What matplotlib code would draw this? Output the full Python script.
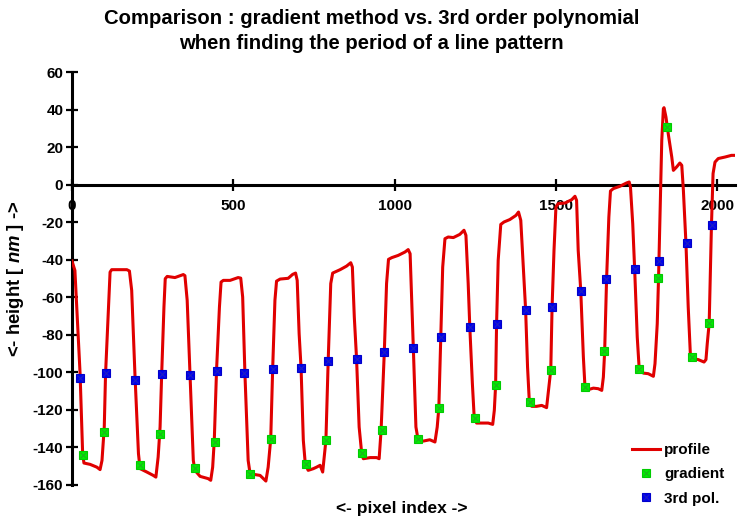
import matplotlib
matplotlib.use("Agg")
import matplotlib.pyplot as plt
from matplotlib.ticker import MultipleLocator

plt.rcParams["font.family"] = ["Liberation Sans", "DejaVu Sans"]
plt.rcParams["font.weight"] = "bold"
plt.rcParams["axes.unicode_minus"] = False
plt.rcParams["mathtext.fontset"] = "custom"
plt.rcParams["mathtext.it"] = "Liberation Sans:bold:italic"

# measured height profile (pixel index, height in nm)
profile_x = [
    0, 9, 25, 33, 37, 56, 77, 87, 93, 100, 104, 113, 118, 123, 170, 178,
    185, 195, 206, 211, 232, 252, 260, 267, 273, 278, 285, 289, 295, 319,
    345, 350, 357, 366, 376, 381, 397, 422, 430, 436, 441, 448, 457, 462,
    469, 490, 515, 523, 529, 536, 546, 552, 583, 601, 608, 616, 622, 629,
    634, 645, 670, 684, 693, 698, 704, 710, 717, 723, 732, 748, 758, 769,
    777, 787, 794, 802, 808, 831, 851, 864, 869, 875, 882, 890, 898, 903,
    924, 944, 952, 958, 968, 975, 981, 991, 1011, 1032, 1042, 1048, 1053,
    1058, 1066, 1073, 1089, 1109, 1125, 1132, 1137, 1143, 1149, 1156, 1166,
    1182, 1202, 1215, 1221, 1228, 1233, 1241, 1246, 1254, 1270, 1290, 1304,
    1309, 1313, 1316, 1321, 1329, 1339, 1357, 1376, 1384, 1391, 1399, 1406,
    1412, 1417, 1425, 1440, 1456, 1471, 1477, 1484, 1488, 1494, 1500, 1507,
    1528, 1549, 1559, 1564, 1569, 1577, 1585, 1590, 1600, 1616, 1631, 1642,
    1647, 1651, 1657, 1664, 1669, 1678, 1698, 1719, 1727, 1731, 1738, 1744,
    1752, 1758, 1771, 1786, 1802, 1807, 1814, 1818, 1822, 1828, 1833, 1835,
    1841, 1848, 1859, 1864, 1874, 1884, 1890, 1895, 1903, 1910, 1917, 1925,
    1941, 1959, 1965, 1969, 1975, 1982, 1987, 1993, 2003, 2024, 2044, 2055,
]
profile_y = [
    -40.7, -45.7, -100.5, -143.3, -148.3, -149.0, -150.5, -151.8, -146.9,
    -129.1, -100.7, -65.2, -46.6, -45.3, -45.3, -46.0, -56.3, -100.7,
    -143.3, -151.3, -153.1, -154.9, -155.8, -145.1, -129.1, -100.7, -65.2,
    -50.1, -48.9, -49.5, -47.9, -48.5, -61.6, -101.6, -146.9, -152.2,
    -155.4, -156.6, -157.5, -150.5, -136.2, -98.9, -65.2, -51.9, -51.0,
    -51.0, -49.5, -49.8, -59.9, -100.7, -146.9, -154.0, -154.9, -157.9,
    -150.5, -135.3, -98.0, -61.6, -51.4, -50.3, -49.9, -47.8, -47.1, -51.0,
    -79.4, -97.7, -136.2, -148.6, -152.2, -151.3, -150.5, -149.5, -153.1,
    -136.2, -94.1, -52.7, -47.1, -45.3, -43.4, -41.6, -43.9, -70.5, -92.7,
    -129.1, -143.3, -146.0, -145.4, -145.4, -146.0, -130.9, -89.2, -52.7,
    -39.8, -38.9, -37.7, -35.9, -34.6, -36.8, -61.6, -87.1, -129.1, -136.2,
    -136.6, -135.9, -137.1, -129.1, -119.0, -81.2, -43.9, -28.8, -27.9,
    -28.2, -26.5, -24.3, -27.0, -52.7, -75.9, -106.0, -122.0, -127.0,
    -127.0, -127.0, -127.7, -120.2, -106.9, -74.1, -40.3, -21.2, -19.9,
    -18.6, -16.4, -14.6, -19.0, -43.9, -66.6, -97.2, -114.0, -118.1,
    -118.1, -117.6, -118.8, -109.6, -98.6, -65.2, -35.0, -11.9, -10.1,
    -9.8, -8.0, -6.2, -8.4, -35.0, -56.7, -91.8, -107.8, -109.2, -108.4,
    -108.7, -109.6, -102.5, -88.8, -50.1, -17.3, -3.4, -2.1, -0.9, 0.9,
    1.4, -1.3, -20.8, -45.1, -81.2, -98.0, -100.4, -100.7, -102.1, -95.4,
    -74.1, -49.8, -20.8, 23.6, 40.5, 41.0, 36.0, 27.2, 14.7, 7.6, 9.4,
    11.5, 10.3, -3.0, -31.4, -65.2, -91.8, -92.7, -93.2, -94.5, -93.2,
    -84.7, -73.7, -21.7, 5.9, 12.0, 13.9, 14.7, 15.6, 15.6,
]

# edge positions found with the gradient method
gradient_x = [35, 98, 211, 273, 380, 442, 552, 616, 725, 787, 898, 961,
              1071, 1139, 1249, 1313, 1419, 1484, 1590, 1650, 1758, 1817,
              1843, 1921, 1975]
gradient_y = [-144.2, -132.0, -149.6, -132.9, -150.8, -137.1, -154.3,
              -135.7, -148.6, -136.1, -143.0, -130.9, -135.7, -118.9,
              -124.3, -106.9, -115.8, -98.6, -107.8, -88.7, -98.0, -49.8,
              30.7, -91.8, -73.7]

# edge positions found with the 3rd order polynomial fit
poly_x = [25, 104, 195, 278, 366, 448, 534, 622, 710, 794, 882, 968, 1058,
          1144, 1233, 1316, 1406, 1488, 1577, 1656, 1744, 1818, 1905, 1983]
poly_y = [-103.0, -100.4, -103.9, -100.9, -101.4, -99.3, -100.4, -98.0,
          -97.7, -94.0, -92.9, -89.2, -87.1, -81.2, -75.9, -74.1, -66.6,
          -65.2, -56.7, -50.1, -45.1, -40.7, -31.1, -21.7]

fig = plt.figure(figsize=(7.39, 5.2), dpi=100)
ax = fig.add_axes([72 / 739, 35 / 520, 663 / 739, 413 / 520])

line, = ax.plot(profile_x, profile_y, color="#e00000", lw=2.2,
                solid_joinstyle="round", zorder=3)
g_sq, = ax.plot(gradient_x, gradient_y, ls="none", marker="s", ms=6.2,
                mfc="#00ee00", mec="#00cc00", mew=0.8, zorder=4)
g_x, = ax.plot(gradient_x, gradient_y, ls="none", marker="x", ms=4.5,
               mec="#22aa22", mew=0.7, zorder=5)
b_sq, = ax.plot(poly_x, poly_y, ls="none", marker="s", ms=6.2,
                mfc="#0000ee", mec="#0000cc", mew=0.8, zorder=4)
b_x, = ax.plot(poly_x, poly_y, ls="none", marker="x", ms=4.5,
               mec="#2222bb", mew=0.7, zorder=5)

ax.set_xlim(0, 2055)
ax.set_ylim(-160, 60)
ax.xaxis.set_major_locator(MultipleLocator(500))
ax.yaxis.set_major_locator(MultipleLocator(20))

for side in ["top", "right"]:
    ax.spines[side].set_visible(False)
ax.spines["bottom"].set_position(("data", 0))
ax.spines["bottom"].set_linewidth(2.2)
ax.spines["left"].set_linewidth(2.2)
ax.spines["bottom"].set_zorder(2)

ax.tick_params(axis="both", direction="inout", length=8.5, width=1.6,
               labelsize=11)
ax.tick_params(axis="x", pad=6)
ax.tick_params(axis="y", pad=2)
for lab in ax.get_xticklabels() + ax.get_yticklabels():
    lab.set_fontweight("bold")

fig.text(0.503, 0.982,
         "Comparison : gradient method vs. 3rd order polynomial\n"
         "when finding the period of a line pattern",
         ha="center", va="top", fontsize=14.6, fontweight="bold",
         linespacing=1.37)
fig.text(0.543, 0.023, "<- pixel index ->", ha="center", va="center",
         fontsize=12.5, fontweight="bold")
fig.text(0.021, 0.463, r"<- height [ $\mathit{nm}$ ] ->", ha="center",
         va="center", rotation=90, fontsize=13.3, fontweight="bold")

leg = ax.legend([line, (g_sq, g_x), (b_sq, b_x)],
                ["profile", "gradient", "3rd pol."],
                loc="upper left", bbox_to_anchor=(632 / 739, 1 - 443 / 520),
                bbox_transform=fig.transFigure, frameon=False,
                fontsize=11, handlelength=1.85, handletextpad=0.25,
                labelspacing=0.68, borderpad=0, borderaxespad=0)
for t in leg.get_texts():
    t.set_fontweight("bold")

fig.savefig("out.png", dpi=100, facecolor="white")
